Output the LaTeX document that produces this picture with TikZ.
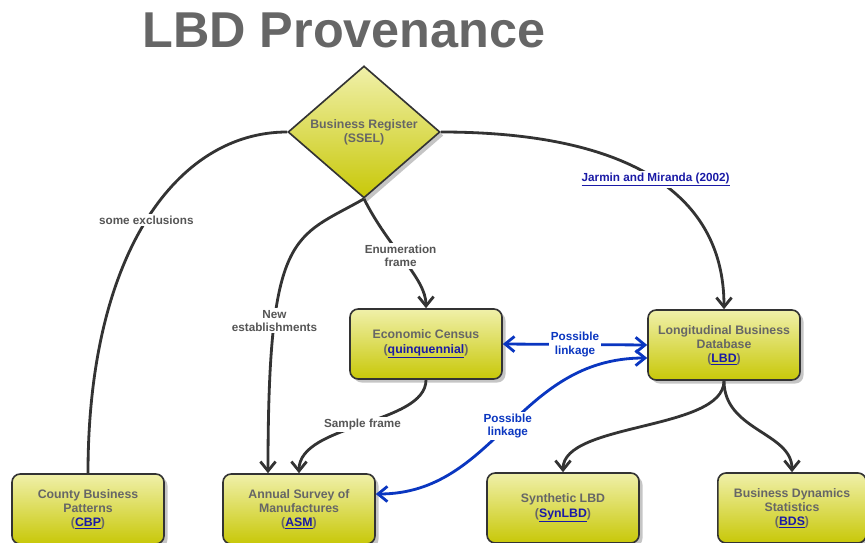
\documentclass[tikz,border=0pt]{standalone}
\usepackage{fontspec}
\setmainfont{Liberation Sans}
\usetikzlibrary{arrows.meta,calc,shapes.geometric,shadows}
\definecolor{boxtop}{HTML}{F0F0AA}
\definecolor{boxbottom}{HTML}{C8C808}
\definecolor{boxline}{HTML}{333333}
\definecolor{textgray}{HTML}{666666}
\definecolor{labelgray}{HTML}{555555}
\definecolor{linkblue}{HTML}{1A1AA6}
\definecolor{linkageblue}{HTML}{0A36C0}
\newcommand{\reflink}[1]{\textcolor{linkblue}{\underline{#1}}}
\tikzset{
  yellowbox/.style={draw=boxline,line width=1.4pt,rounded corners=7pt,
    top color=boxtop,bottom color=boxbottom,
    drop shadow={shadow xshift=3pt,shadow yshift=-3pt,fill=black!45,opacity=.5},
    minimum width=4.56cm,minimum height=2.1cm,align=center,
    text=textgray,font=\fontsize{10.5}{12}\selectfont\bfseries},
  registerdiamond/.style={yellowbox,diamond,sharp corners,aspect=1.15,inner sep=1pt,
    minimum width=4.56cm,minimum height=3.96cm},
  flow/.style={boxline,line width=2.4pt,-{Straight Barb[length=8pt,width=13pt]}},
  plainflow/.style={boxline,line width=2.4pt},
  linkage/.style={linkageblue,line width=2.4pt,
    {Straight Barb[length=8pt,width=13pt]}-{Straight Barb[length=8pt,width=13pt]}},
  flowlabel/.style={fill=white,inner sep=1.5pt,align=center,text=labelgray,
    font=\fontsize{10}{11.5}\selectfont\bfseries},
  linkagelabel/.style={flowlabel,text=linkageblue}
}
\begin{document}
\begin{tikzpicture}[x=0.03cm,y=-0.03cm]
\useasboundingbox (0,0) rectangle (865,543);
\node[font=\fontsize{43}{48}\selectfont\bfseries,text=textgray] (title) at (344,30) {LBD Provenance};
% sources and products
\node[registerdiamond] (ssel) at (364,132) {Business Register\\(SSEL)};
\node[yellowbox] (ec) at (426,344) {Economic Census\\(\reflink{quinquennial})};
\node[yellowbox] (lbd) at (724,345) {Longitudinal Business\\Database\\(\reflink{LBD})};
\node[yellowbox] (cbp) at (88,509) {County Business\\Patterns\\(\reflink{CBP})};
\node[yellowbox] (asm) at (299,509) {Annual Survey of\\Manufactures\\(\reflink{ASM})};
\node[yellowbox] (synlbd) at (563,508) {Synthetic LBD\\(\reflink{SynLBD})};
\node[yellowbox,minimum width=4.45cm] (bds) at (792,508) {Business Dynamics\\Statistics\\(\reflink{BDS})};
% flows out of the register
\draw[plainflow] (ssel.west) .. controls +(-110,0) and +(0,-220) .. (cbp.north)
  node[flowlabel,pos=0.5] {some exclusions};
\draw[flow] (ssel.east) .. controls +(180,0) and +(0,-120) .. (lbd.north)
  node[flowlabel,pos=0.52] {\reflink{Jarmin and Miranda (2002)}};
\draw[flow] (ssel.south) .. controls +(25,50) and +(0,-30) .. (ec.north)
  node[flowlabel,pos=0.45] {Enumeration\\frame};
\draw[flow] (ssel.south) .. controls +(-70,40) and +(0,-245) .. ($(asm.north)+(-31,0)$)
  node[flowlabel,pos=0.72] {New\\establishments};
\draw[flow] (ec.south) .. controls +(0,45) and +(0,-50) .. (asm.north)
  node[flowlabel,pos=0.5] {Sample frame};
% products of the LBD
\draw[flow] (lbd.south) .. controls +(0,50) and +(0,-50) .. (synlbd.north);
\draw[flow] (lbd.south) .. controls +(0,50) and +(0,-40) .. (bds.north);
% linkages
\draw[linkage] (ec.east) -- (lbd.west) node[linkagelabel,midway] {Possible\\linkage};
\draw[linkage] ($(asm.east)+(0,-15)$) .. controls +(120,0) and +(-130,0) .. ($(lbd.west)+(0,13)$)
  node[linkagelabel,pos=0.5] {Possible\\linkage};
\end{tikzpicture}
\end{document}
